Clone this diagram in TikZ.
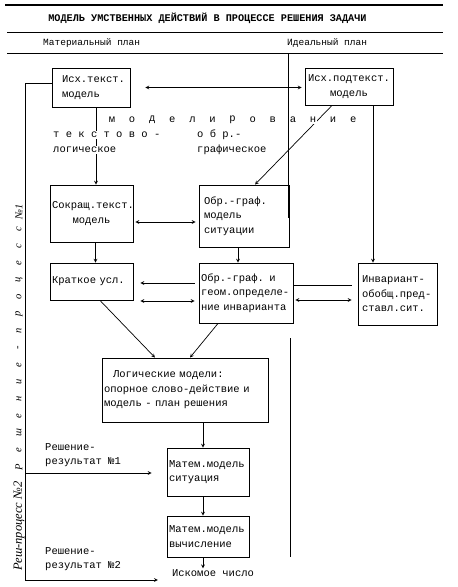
\documentclass[tikz,border=0pt]{standalone}
\usepackage{fontspec}
\setmainfont{Liberation Serif}
\newfontfamily\typefont{Liberation Mono}
\newfontfamily\handfont{Liberation Serif}
\usetikzlibrary{arrows,shapes,positioning,calc}

\begin{document}
\begin{tikzpicture}[
    x=1pt, y=-1pt, >=stealth,
    box/.style={rectangle, draw, line width=0.9pt, inner sep=2pt, align=left,
                font=\typefont\fontsize{10.5}{14.5}\selectfont},
    txt/.style={inner sep=1pt, align=left, font=\typefont\fontsize{10.5}{14.5}\selectfont},
    hand/.style={inner sep=0.5pt, font=\handfont\itshape\fontsize{10.5}{12}\selectfont},
    link/.style={line width=0.7pt}
]
    \useasboundingbox (0,0) rectangle (458,587);

    % Header
    \draw[line width=1.3pt] (5,5) -- (443,5);
    \draw[line width=1pt] (7,32) -- (443,32);
    \draw[line width=1pt] (7,53) -- (443,53);
    \node[txt, font=\typefont\bfseries\fontsize{10.2}{12}\selectfont] (title) at (207.5,18)
        {МОДЕЛЬ УМСТВЕННЫХ ДЕЙСТВИЙ В ПРОЦЕССЕ РЕШЕНИЯ ЗАДАЧИ};
    \node[txt, anchor=west, font=\typefont\fontsize{9.5}{12}\selectfont] (matplan) at (42,43) {Материальный план};
    \node[txt, anchor=west, font=\typefont\fontsize{9.5}{12}\selectfont] (idplan) at (286,43) {Идеальный план};

    % Boxes
    \node[box, inner xsep=10pt, text width=58pt, minimum height=39pt] (isxt) at (91,87.5) {Исх.текст.\\модель};
    \node[box, align=center, text width=84pt, minimum height=37pt] (isxp) at (349,86.5) {Исх.подтекст.\\модель};
    \node[box, align=center, text width=79pt, minimum height=57pt] (sokr) at (91.5,213.5) {Сокращ.текст.\\модель};
    \node[box, inner xsep=5pt, text width=80pt, minimum height=62pt] (obrm) at (244,216) {Обр.-граф.\\модель\\ситуации};
    \node[box, text width=79pt, minimum height=37pt] (krat) at (91.5,281.5) {Краткое усл.};
    \node[box, text width=90pt, minimum height=60pt] (obrg) at (246,293)
        {Обр.-граф. и\\геом.определе-\\ние инварианта};
    \node[box, inner xsep=4pt, text width=71pt, minimum height=62pt] (inv) at (397.5,294)
        {Инвариант-\\обобщ.пред-\\ставл.сит.};
    \node[box, text width=162pt, minimum height=64pt] (logic) at (185,390)
        {\hspace*{9pt}Логические модели:\\опорное слово-действие и\\модель - план решения};
    \node[box, text width=78pt, minimum height=48pt] (mat1) at (208,472) {Матем.модель\\ситуация};
    \node[box, text width=78pt, minimum height=41pt] (mat2) at (208,536.5) {Матем.модель\\вычисление};
    \node[txt] (res) at (213,573) {Искомое число};

    % Arrows
    \coordinate (lcorner) at (25,580);
    \coordinate (lmid) at (25,473);
    \draw[link] ([yshift=4pt]isxt.west) -| (lcorner);
    \draw[link, ->, shorten >=13pt] (lcorner) -- (lcorner -| res.west);
    \draw[link, ->, shorten >=15pt] (lmid) -- (lmid -| mat1.west);
    \draw[link, <->, shorten <=15pt, shorten >=3pt] (isxt.east) -- (isxt.east -| isxp.west);
    \draw[link, ->] ([xshift=5pt]isxt.south) -- ([xshift=5pt]isxt.south |- sokr.north);
    \draw[link, ->] ([xshift=-17pt]isxp.south) -- ([xshift=11pt]obrm.north);
    \draw[link, ->] ([xshift=24pt]isxp.south) -- ([xshift=24pt]isxp.south |- inv.north);
    \draw[link, <->, shorten <=2pt, shorten >=3pt] ([yshift=-8.5pt]sokr.east) -- ([yshift=-8.5pt]sokr.east -| obrm.west);
    \draw[link, ->] ([xshift=4pt]sokr.south) -- ([xshift=4pt]sokr.south |- krat.north);
    \draw[link, ->] ([xshift=-6pt]obrm.south) -- ([xshift=-6pt]obrm.south |- obrg.north);
    \draw[link, <-, shorten <=7pt, shorten >=4pt] ([yshift=10pt]obrg.west -| krat.east) -- ([yshift=10pt]obrg.west);
    \draw[link, <->, shorten <=7pt, shorten >=4pt] ([yshift=-8pt]obrg.west -| krat.east) -- ([yshift=-8pt]obrg.west);
    \draw[link, shorten >=6pt] ([yshift=8pt]obrg.east) -- ([yshift=8pt]obrg.east -| inv.west);
    \draw[link, <->, shorten <=2pt, shorten >=6pt] ([yshift=-7pt]obrg.east) -- ([yshift=-7pt]obrg.east -| inv.west);
    \draw[link, ->] ([xshift=8.5pt]krat.south) -- ([xshift=-30pt]logic.north);
    \draw[link, ->] ([xshift=-28pt]obrg.south) -- ([xshift=5pt]logic.north);
    \draw[link, ->] ([xshift=-5pt]mat1.north |- logic.south) -- ([xshift=-5pt]mat1.north);
    \draw[link, ->] ([xshift=-5pt]mat1.south) -- ([xshift=-5pt]mat1.south |- mat2.north);
    \draw[link, ->] ([xshift=-5pt]mat2.south) -- ([xshift=-5pt]mat2.south |- res.north);

    % Labels
    \foreach \ch [count=\i from 0] in {м,о,д,е,л,и,р,о,в,а,н,и,е}
        \node[txt, fill=white] (mod\i) at ({112+20.1*\i},120) {\ch};
    \node[txt, fill=white, anchor=west] (tekst) at (52,135) {т е к с т о в о -};
    \node[txt, fill=white, anchor=west] (logich) at (52,150) {логическое};
    \node[txt, fill=white, anchor=west] (obr) at (196,135) {о б р.-};
    \node[txt, fill=white, anchor=west] (graf) at (196,150) {графическое};
    \node[txt, anchor=west] (res1) at (44,455) {Решение-\\результат №1};
    \node[txt, anchor=west] (res2) at (44,559) {Решение-\\результат №2};
    \foreach \ch [count=\i from 0] in {Р,е,ш,е,н,и,е,-,п,р,о,ц,е,с,с,№1}
        \node[hand, rotate=90] (sol\i) at (19,{467-17*\i}) {\ch};
    \node[hand, rotate=90, font=\handfont\itshape\fontsize{12.5}{14}\selectfont] (proc2) at (19,526) {Реш-процесс №2};

    % Plans
    \draw[line width=0.9pt] (288,53) -- (288,218);
    \draw[line width=0.9pt] (290,338) -- (290,557);
\end{tikzpicture}
\end{document}
